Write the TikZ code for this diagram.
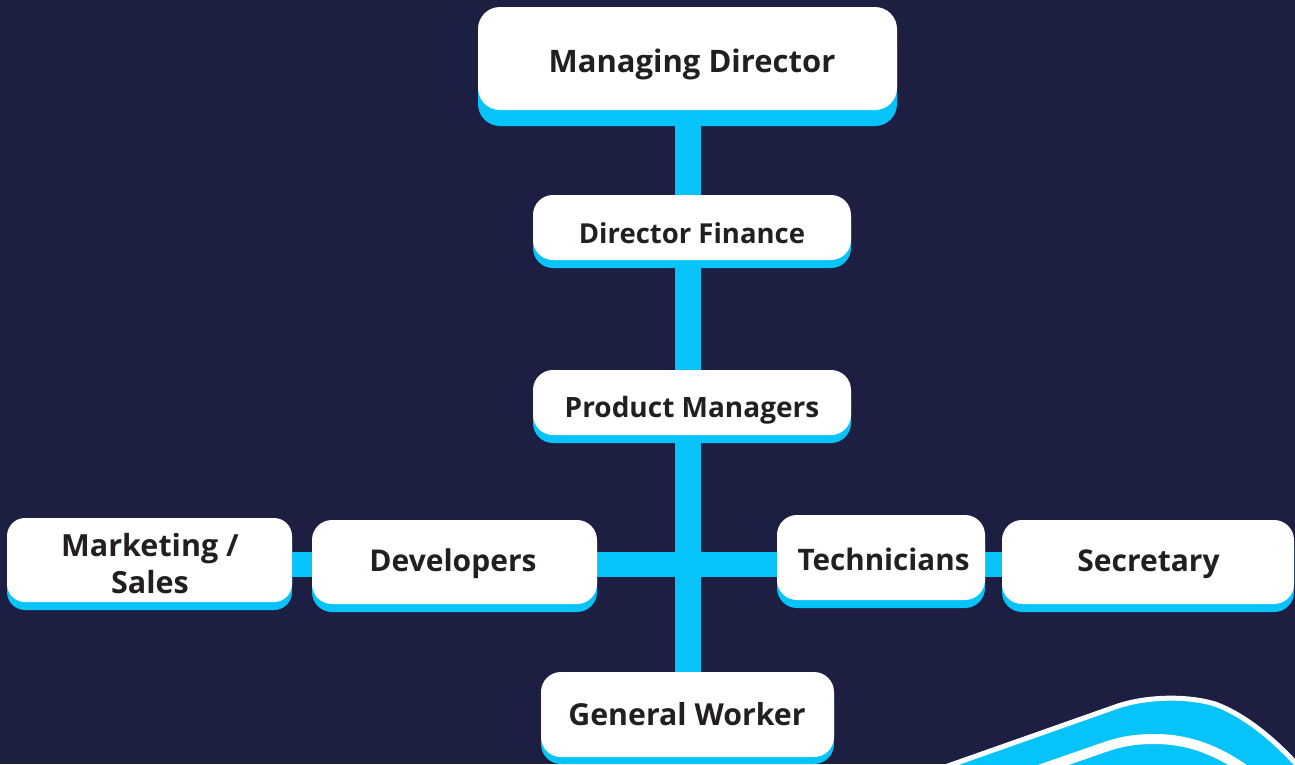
\documentclass[tikz,border=0pt]{standalone}
\usepackage{fontspec}
\setmainfont{Open Sans}[BoldFont={Open Sans Bold}]
\definecolor{bgnavy}{HTML}{1C1E42}
\definecolor{cyanc}{HTML}{06C3FA}
\definecolor{txt}{HTML}{231F20}
\pgfdeclarelayer{back}
\pgfsetlayers{back,main}
\newcommand{\fs}[1]{\bfseries\fontsize{#1}{37}\selectfont}
\tikzset{
  box/.style={draw=none, fill=white, rounded corners=20pt, inner sep=0pt,
    preaction={fill=cyanc, transform canvas={yshift=-#1}}},
  box/.default=8pt,
  lbl/.style={text=txt, align=center, inner sep=0pt, anchor=base},
  conn/.style={draw=cyanc, line width=25.5pt}
}
\begin{document}
\begin{tikzpicture}[x=1pt,y=-1pt]
\begin{pgfonlayer}{back}
\fill[bgnavy] (0,0) rectangle (1295,764);
\end{pgfonlayer}
\useasboundingbox (0,0) rectangle (1295,764);
% swoosh
\begin{scope}
\clip (0,0) rectangle (1295,764);
\fill[cyanc]
  (945,767) -- (1118,706) .. controls (1145,697) and (1185,695) .. (1215,704)
  .. controls (1245,715) and (1275,740) .. (1300,768) -- (1300,780) -- (940,780) -- cycle;
\draw[white, line width=5pt]
  (945,767) -- (1118,706) .. controls (1145,697) and (1185,695) .. (1215,704)
  .. controls (1245,715) and (1275,740) .. (1300,768);
\draw[white, line width=10pt]
  (1030,773) -- (1105,747) .. controls (1125,740) and (1140,739) .. (1155,739)
  .. controls (1185,739) and (1215,748) .. (1248,772);
\end{scope}
% boxes
\node[box=16pt, rounded corners=22pt, minimum width=419pt, minimum height=103pt] (md) at (687.5,58.5) {};
\node[box, minimum width=318pt, minimum height=65pt] (df) at (692,227.5) {};
\node[box, minimum width=318pt, minimum height=65pt] (pm) at (692,402.5) {};
\node[box, rounded corners=18pt, minimum width=285pt, minimum height=84pt] (ms) at (149.5,560) {};
\node[box, minimum width=285pt, minimum height=84pt] (dev) at (454.5,562) {};
\node[box, minimum width=208pt, minimum height=85pt] (tech) at (881,557.5) {};
\node[box, minimum width=292pt, minimum height=84pt] (sec) at (1148,562) {};
\node[box=7pt, minimum width=293pt, minimum height=85pt] (gw) at (687.5,714.5) {};
% labels
\node[lbl, font=\fs{31}] at (692,72) {Managing Director};
\node[lbl, font=\fs{27.5}] at (692,243) {Director Finance};
\node[lbl, font=\fs{28}] at (692,417) {Product Managers};
\node[lbl, font=\fs{30.5}, anchor=center] at (150,564) {Marketing /\\Sales};
\node[lbl, font=\fs{30}] at (453,571) {Developers};
\node[lbl, font=\fs{29.6}] at (883.5,570) {Technicians};
\node[lbl, font=\fs{30}] at (1148.5,571.5) {Secretary};
\node[lbl, font=\fs{30.3}] at (687,725) {General Worker};
% connectors
\coordinate (hub) at (688,564.5);
\begin{pgfonlayer}{back}
\draw[conn, line width=26pt] (hub |- md.center) -- (hub |- gw.center);
\draw[conn] (ms.center |- hub) -- (sec.center |- hub);
\end{pgfonlayer}
\end{tikzpicture}
\end{document}
